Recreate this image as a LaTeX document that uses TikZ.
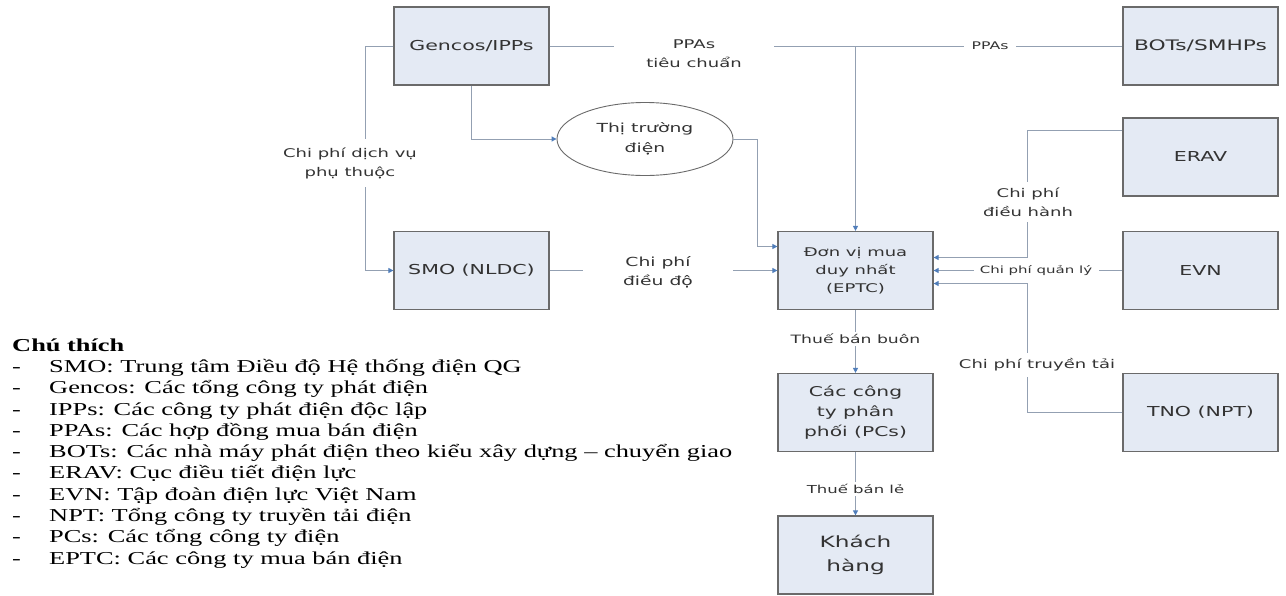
\documentclass[tikz,border=0pt]{standalone}
\usepackage{fontspec}
\usetikzlibrary{arrows.meta,shapes.geometric}
\newfontfamily\diafont[FakeStretch=1.5]{DejaVu Sans}
\newfontfamily\legfont[FakeStretch=1.45]{Liberation Serif}
\definecolor{boxfill}{HTML}{E4EAF4}
\definecolor{boxline}{HTML}{6A6A6A}
\definecolor{wirecol}{HTML}{93A0B2}
\definecolor{tipblue}{HTML}{4F7DBA}
\definecolor{txt}{HTML}{333333}

\begin{document}
\begin{tikzpicture}[x=1pt, y=-1pt,
  box/.style={draw=boxline, fill=boxfill, line width=1.2pt, minimum width=155pt,
    minimum height=78pt, align=center, text=txt,
    font=\diafont\fontsize{13.7}{18}\selectfont},
  lbl/.style={fill=white, align=center, text=txt, inner sep=2pt,
    font=\diafont\fontsize{12}{19}\selectfont},
  wire/.style={draw=wirecol, line width=1pt},
  >={Triangle[length=5pt, width=5pt, color=tipblue]}]
  \useasboundingbox (0,0) rectangle (1286,595);

  % Boxes
  \node[box] (gencos) at (471.5,46) {Gencos/IPPs};
  \node[box, font=\diafont\fontsize{14.5}{18}\selectfont] (bots) at (1200.5,46) {BOTs/SMHPs};
  \node[box] (erav) at (1200.5,157) {ERAV};
  \node[box] (evn) at (1200.5,270.5) {EVN};
  \node[box] (tno) at (1200.5,412.5) {TNO (NPT)};
  \node[box] (smo) at (471.5,270.5) {SMO (NLDC)};
  \node[box, font=\diafont\fontsize{12}{18}\selectfont] (eptc) at (855.5,270.5)
    {Đơn vị mua\\duy nhất\\(EPTC)};
  \node[box, font=\diafont\fontsize{13.5}{20}\selectfont] (pcs) at (855.5,412.5)
    {Các công\\ty phân\\phối (PCs)};
  \node[box, font=\diafont\fontsize{15.5}{24}\selectfont] (khach) at (855.5,555)
    {Khách\\hàng};
  \node[draw=boxline, line width=0.9pt, ellipse, minimum width=176pt, minimum height=73pt,
    align=center, text=txt, font=\diafont\fontsize{12.5}{20}\selectfont] (market) at (645,139)
    {Thị trường\\điện};

  % Connectors
  \draw[wire] (gencos.east) -- (bots.west);
  \coordinate (tap) at (eptc.north |- gencos.east);
  \draw[wire, ->] (tap) -- (eptc.north);
  \draw[wire, ->] (gencos.west) -- ++(-28,0) |- (smo.west);
  \draw[wire, ->] (gencos.south) |- (market.west);
  \draw[wire, ->] (market.east) -- ++(24,0) |- ([yshift=24pt]eptc.west);
  \draw[wire, ->] (smo.east) -- (eptc.west);
  \draw[wire, ->] ([yshift=27pt]erav.west) -- ++(-95,0) |- ([yshift=13pt]eptc.east);
  \draw[wire, ->] (evn.west) -- (eptc.east);
  \draw[wire, ->] (tno.west) -- ++(-95,0) |- ([yshift=-13pt]eptc.east);
  \draw[wire, ->] (eptc.south) -- (pcs.north);
  \draw[wire, ->] (pcs.south) -- (khach.north);

  % Labels
  \node[lbl, minimum width=160pt] (ppastd) at (694,54) {PPAs\\tiêu chuẩn};
  \node[lbl, inner xsep=8pt, font=\diafont\fontsize{10.5}{12}\selectfont] (ppas) at (990,46) {PPAs};
  \node[lbl, inner ysep=8pt] (ancil) at (350,163) {Chi phí dịch vụ\\phụ thuộc};
  \node[lbl, minimum width=150pt, font=\diafont\fontsize{12.5}{19}\selectfont] (dispatch) at (658,272)
    {Chi phí\\điều độ};
  \node[lbl, inner ysep=6pt] (operate) at (1028,202) {Chi phí\\điều hành};
  \node[lbl, minimum width=125pt, font=\diafont\fontsize{10}{12}\selectfont] (manage) at (1036,270.5)
    {Chi phí quản lý};
  \node[lbl, inner ysep=6pt] (transmit) at (1037,365) {Chi phí truyền tải};
  \node[lbl, font=\diafont\fontsize{11.5}{14}\selectfont] (wholesale) at (855.5,339) {Thuế bán buôn};
  \node[lbl, font=\diafont\fontsize{11}{14}\selectfont] (retail) at (855.5,489) {Thuế bán lẻ};

  % Legend
  \node[anchor=north west, inner sep=0pt, align=left,
    font=\legfont\fontsize{18.2}{21.3}\selectfont] (legend) at (12,336) {%
    \begin{tabular}{@{}p{37pt}@{}l@{}}
      \multicolumn{2}{@{}l}{\bfseries Chú thích}\\
      - & SMO: Trung tâm Điều độ Hệ thống điện QG\\
      - & Gencos: Các tổng công ty phát điện\\
      - & IPPs: Các công ty phát điện độc lập\\
      - & PPAs: Các hợp đồng mua bán điện\\
      - & BOTs: Các nhà máy phát điện theo kiểu xây dựng – chuyển giao\\
      - & ERAV: Cục điều tiết điện lực\\
      - & EVN: Tập đoàn điện lực Việt Nam\\
      - & NPT: Tổng công ty truyền tải điện\\
      - & PCs: Các tổng công ty điện\\
      - & EPTC: Các công ty mua bán điện
    \end{tabular}};
\end{tikzpicture}
\end{document}
